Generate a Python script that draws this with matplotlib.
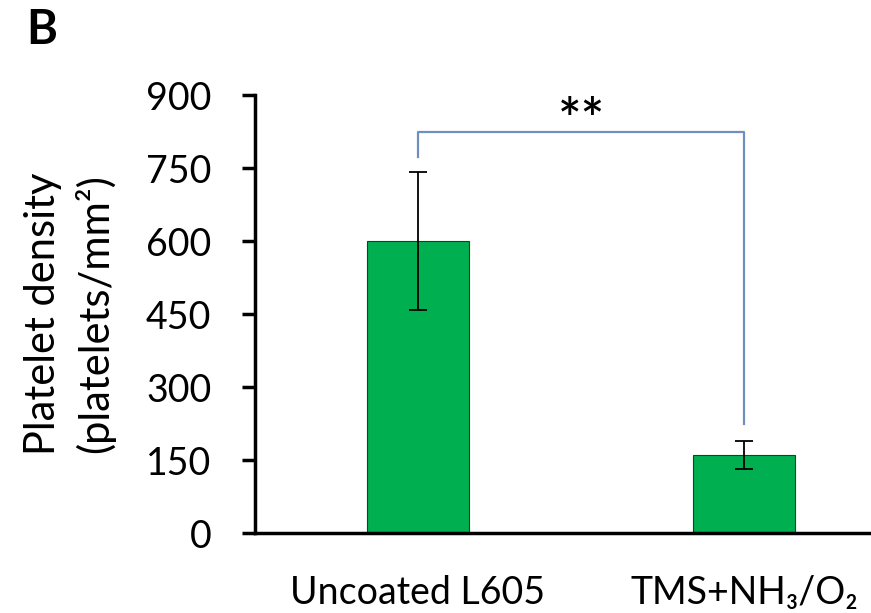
import matplotlib.pyplot as plt

plt.rcParams['font.family'] = ['Lato', 'DejaVu Sans']

groups = ['Uncoated L605', 'TMS+NH\u2083/O\u2082']
density = [600, 160]
err = [141, 29]
y_ticks = [0, 150, 300, 450, 600, 750, 900]
# significance bracket (data units)
bracket_top = 824
bracket_ends = [773, 224]
sig_label = '**'

fig = plt.figure(figsize=(8.71, 6.13), dpi=100)
ax = fig.add_axes([0.2928, 0.1305, 0.7486, 0.7145])

x = list(range(len(groups)))
ax.bar(x, density, width=0.313, color='#00b050', edgecolor='#1f3d1f', linewidth=0.8)
ax.errorbar(x, density, yerr=err, fmt='none', ecolor='black', elinewidth=1.3,
            capsize=6.5, capthick=1.3)

# bracket
ax.plot([x[0], x[0], x[1], x[1]],
        [bracket_ends[0], bracket_top, bracket_top, bracket_ends[1]],
        color='#6f8fbf', linewidth=1.6)
ax.text((x[0] + x[1]) / 2, bracket_top - 14, sig_label, ha='center', va='baseline',
        fontsize=40, fontweight='semibold')

ax.set_xlim(-0.5, 1.5)
ax.set_ylim(0, 900)
ax.set_yticks(y_ticks)
ax.set_xticks(x)
ax.set_xticklabels(groups, fontsize=27)
ax.tick_params(axis='x', length=0, pad=30)
ax.tick_params(axis='y', labelsize=27, length=9.5, width=2.5, pad=22, direction='out')

for s in ['top', 'right']:
    ax.spines[s].set_visible(False)
ax.spines['left'].set_linewidth(2.5)
ax.spines['bottom'].set_linewidth(2.5)

ax.set_ylabel('Platelet density\n(platelets/mm\u00b2)', fontsize=30, labelpad=22,
              linespacing=1.35)

fig.text(0.030, 0.951, 'B', fontsize=34, fontweight='bold', ha='left', va='center')

fig.savefig('out.png', dpi=100)
